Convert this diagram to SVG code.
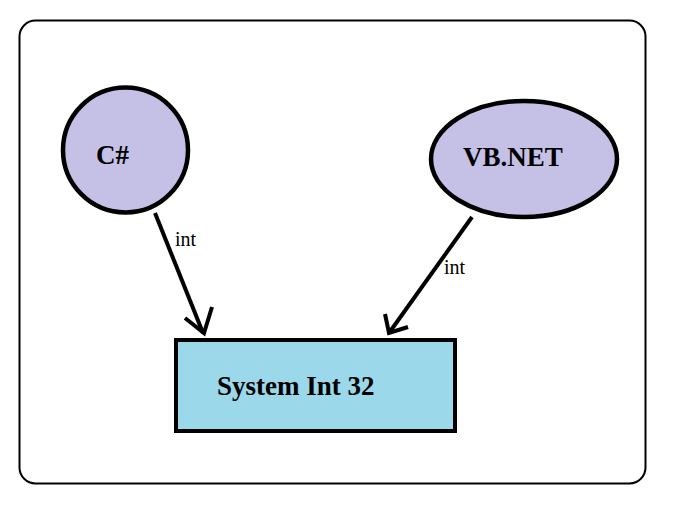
<svg xmlns="http://www.w3.org/2000/svg" width="681" height="514" viewBox="0 0 681 514">
<style>
.node{fill:#c5c0e6;stroke:#000;stroke-width:4.5}
.box{fill:#9bd8ea;stroke:#000;stroke-width:4}
.lbl{font-family:"Liberation Serif","Times New Roman",serif;font-weight:bold;font-size:27px;fill:#000}
.elbl{font-family:"Liberation Serif","Times New Roman",serif;font-size:20px;fill:#000}
.conn{stroke:#000;stroke-width:4;fill:none;stroke-linecap:butt}
</style>
<rect x="19.5" y="20.5" width="626" height="463" rx="16" ry="16" fill="#fff" stroke="#000" stroke-width="2"/>
<g id="node-csharp">
<circle class="node" cx="125.5" cy="150" r="62.5"/>
<text class="lbl" x="96" y="164">C#</text>
</g>
<g id="node-vbnet">
<ellipse class="node" cx="524" cy="159" rx="93" ry="58"/>
<text class="lbl" x="463" y="166">VB.NET</text>
</g>
<g id="node-system">
<rect class="box" x="176" y="340" width="279" height="91"/>
<text class="lbl" x="217" y="395">System Int 32</text>
</g>
<g id="connectors">
<path class="conn" d="M155,213 L203,333"/>
<path class="conn" d="M185,318 L204,333 L212,307"/>
<text class="elbl" x="175" y="246">int</text>
<path class="conn" d="M472,217 L389,333"/>
<path class="conn" d="M385,314 L389,333 L408,327"/>
<text class="elbl" x="444" y="274">int</text>
</g>
</svg>
